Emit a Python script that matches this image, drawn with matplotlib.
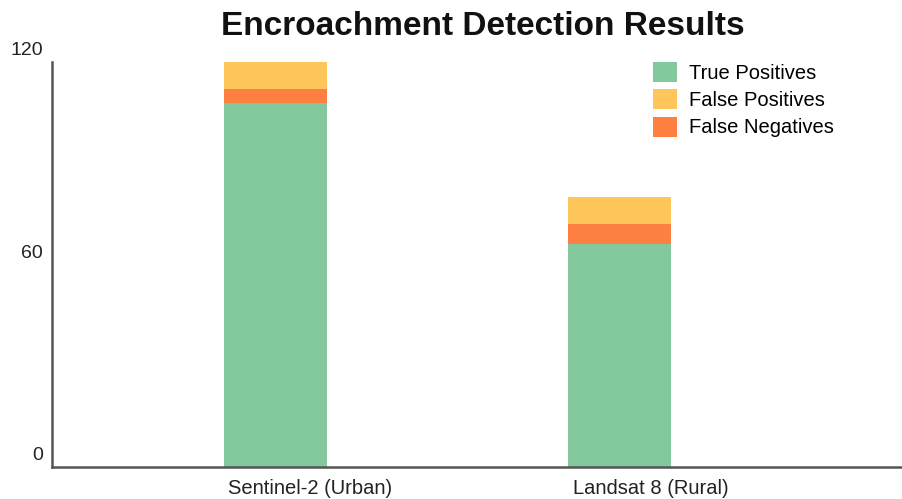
import matplotlib
matplotlib.use("Agg")
import matplotlib.pyplot as plt
import matplotlib.transforms as mtransforms
import numpy as np

plt.rcParams['font.family'] = ['Liberation Sans', 'DejaVu Sans']

categories = ["Sentinel-2 (Urban)", "Landsat 8 (Rural)"]
true_positives = [108, 66]
false_negatives = [4, 6]
false_positives = [8, 8]
y_ticks = [0, 60, 120]

c_tp = "#84C99E"
c_fp = "#FDC55A"
c_fn = "#FD8042"

W, H = 902, 499
fig = plt.figure(figsize=(W / 100, H / 100), dpi=100)
ax = fig.add_axes([52 / W, 32 / H, 1 - 52 / W, (467 - 62) / H])

x = np.arange(len(categories))
w = 0.30
tp = np.array(true_positives)
fn = np.array(false_negatives)
fp = np.array(false_positives)

b_tp = ax.bar(x, tp, w, color=c_tp, label="True Positives")
b_fn = ax.bar(x, fn, w, bottom=tp, color=c_fn, label="False Negatives")
b_fp = ax.bar(x, fp, w, bottom=tp + fn, color=c_fp, label="False Positives")

ax.set_xlim(-0.648, 1.82)
ax.set_ylim(0, 120)

# y labels sit just above their tick positions, right-aligned near the spine
ax.set_yticks(y_ticks)
ax.set_yticklabels([])
ax.tick_params(axis="y", length=0)
lab_tr = ax.get_yaxis_transform() + mtransforms.ScaledTranslation(-9 / 100, 7 / 100, fig.dpi_scale_trans)
for v in y_ticks:
    ax.text(0, v, str(v), transform=lab_tr, ha="right", va="baseline",
            fontsize=14, color="#222222")

# category labels start just inside the left edge of each bar
ax.set_xticks(x)
ax.set_xticklabels(categories, fontsize=14.5, color="#222222")
ax.tick_params(axis="x", length=0, pad=19.4)
shift = mtransforms.ScaledTranslation(-47 / 100, 0, fig.dpi_scale_trans)
for lbl in ax.get_xticklabels():
    lbl.set_horizontalalignment("left")
    lbl.set_verticalalignment("baseline")
    lbl.set_transform(lbl.get_transform() + shift)

for s in ["top", "right"]:
    ax.spines[s].set_visible(False)
for s in ["left", "bottom"]:
    ax.spines[s].set_color("#555555")
    ax.spines[s].set_linewidth(1.8)

fig.legend(handles=[b_tp, b_fp, b_fn], loc="upper left",
           bbox_to_anchor=(653 / W, 1 - 62 / H), frameon=False, fontsize=14.5,
           handlelength=1.19, handleheight=1.15, handletextpad=0.6,
           labelspacing=0.32, borderpad=0, borderaxespad=0)

fig.text(0.535, 1 - 35 / H, "Encroachment Detection Results", ha="center",
         va="baseline", fontsize=24, fontweight="bold", color="#111111")

fig.savefig("out.png", dpi=100)
